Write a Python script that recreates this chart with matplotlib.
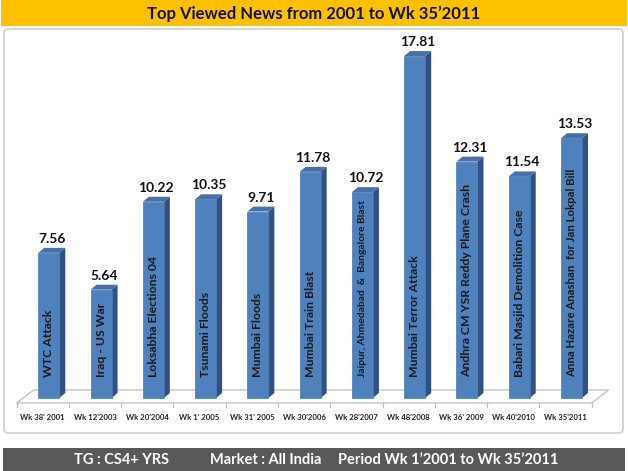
import matplotlib
matplotlib.use("Agg")
import matplotlib.pyplot as plt
from matplotlib.patches import Polygon, Rectangle, FancyBboxPatch

# Chart data
news = ["WTC Attack", "Iraq - US War", "Loksabha Elections 04", "Tsunami Floods",
        "Mumbai Floods", "Mumbai Train Blast", "Jaipur, Ahmedabad  &  Bangalore Blast",
        "Mumbai Terror Attack", "Andhra CM YSR Reddy Plane Crash",
        "Babari Masjid Demolition Case", "Anna Hazare Anashan  for Jan Lokpal Bill"]
weeks = ["Wk 38' 2001", "Wk 12'2003", "Wk 20'2004", "Wk 1' 2005", "Wk 31' 2005",
         "Wk 30'2006", "Wk 28'2007", "Wk 48'2008", "Wk 36' 2009", "Wk 40'2010",
         "Wk 35'2011"]
views = [7.56, 5.64, 10.22, 10.35, 9.71, 11.78, 10.72, 17.81, 12.31, 11.54, 13.53]

title = "Top Viewed News from 2001 to Wk 35\u20192011"
footer = ["TG : CS4+ YRS", "Market : All India", "Period Wk 1\u20192001 to Wk 35\u20192011"]

FONT = ["Lato", "DejaVu Sans"]
W, H = 628, 471

fig = plt.figure(figsize=(W / 100, H / 100), dpi=100)

# decoration layer in pixel coordinates
bg = fig.add_axes([0, 0, 1, 1])
bg.set_xlim(0, W)
bg.set_ylim(H, 0)
bg.axis("off")
bg.add_patch(Rectangle((1, 0), W - 2, 26, facecolor="#FFC000", edgecolor="none"))
bg.text(W / 2, 14, title, ha="center", va="center", fontsize=12, fontweight="bold",
        family=FONT, color="#111111")
bg.add_patch(FancyBboxPatch((4, 29), W - 9, 404, boxstyle="round,pad=0,rounding_size=4",
                            facecolor="white", edgecolor="#D0D0D0", linewidth=1.2))
bg.add_patch(Rectangle((3, 448), W - 6, 23, facecolor="#595959", edgecolor="none"))
for txt, cx in zip(footer, [121, 266, 448]):
    bg.text(cx, 460, txt, ha="center", va="center", fontsize=10.5, fontweight="bold",
            family=FONT, color="white")

# bar layer: pixel mapping of data
x0, step = 48.8, 52.27      # pixel centre of first bar, spacing
y0, unit = 398, 19.2        # pixel of value 0, pixels per unit
px_l, px_r, py_t, py_b = 10, 618, 34, 428
ax = fig.add_axes([px_l / W, 1 - py_b / H, (px_r - px_l) / W, (py_b - py_t) / H])
ax.set_xlim((px_l - x0) / step, (px_r - x0) / step)
ax.set_ylim((y0 - py_b) / unit, (y0 - py_t) / unit)
ax.axis("off")

bw = 21 / step
dx, dy = 6 / step, 5 / unit
shift = -6 / step

# floor
fl, fr = -0.5 + shift, len(views) - 0.5 + shift
ff, fb = -5 / unit, 8 / unit
fdx = 17 / step
ax.add_patch(Polygon([(fl, ff), (fr, ff), (fr + fdx, fb), (fl + fdx, fb)], closed=True,
                     facecolor="white", edgecolor="#BFBFBF", linewidth=0.9, zorder=1))
for k in range(len(views) + 1):
    xt = k - 0.5 + shift
    ax.plot([xt, xt], [ff, ff - 4 / unit], color="#BFBFBF", linewidth=0.9, zorder=1)

inner_size = {6: 7.4, 10: 8.2}

for i, (v, name, wk) in enumerate(zip(views, news, weeks)):
    l, r = i - bw / 2, i + bw / 2
    ax.add_patch(Polygon([(r, 0), (r + dx, dy), (r + dx, v + dy), (r, v)], closed=True,
                         facecolor="#2F5283", edgecolor="none", zorder=2))
    ax.add_patch(Polygon([(l, v), (r, v), (r + dx, v + dy), (l + dx, v + dy)], closed=True,
                         facecolor="#4572AA", edgecolor="none", zorder=2))
    ax.add_patch(Rectangle((l, 0), bw, v, facecolor="#4F81BD", edgecolor="#4A7AB3",
                           linewidth=0.5, zorder=3))
    ax.text(i + dx / 2, v + 14 / unit, f"{v:.2f}", ha="center", va="center",
            fontsize=10, fontweight="bold", family=FONT, color="#111111", zorder=4)
    ax.text(i, 1.1, name, rotation=90, rotation_mode="anchor", ha="left", va="center",
            fontsize=inner_size.get(i, 8.8), fontweight="bold", family=FONT,
            color="#1A1A1A", zorder=4)
    ax.text(i + shift, -20 / unit, wk, ha="center", va="center", fontsize=5.6,
            fontweight="bold", family=FONT, color="#222222", zorder=4)

fig.savefig("out.png", dpi=100)
